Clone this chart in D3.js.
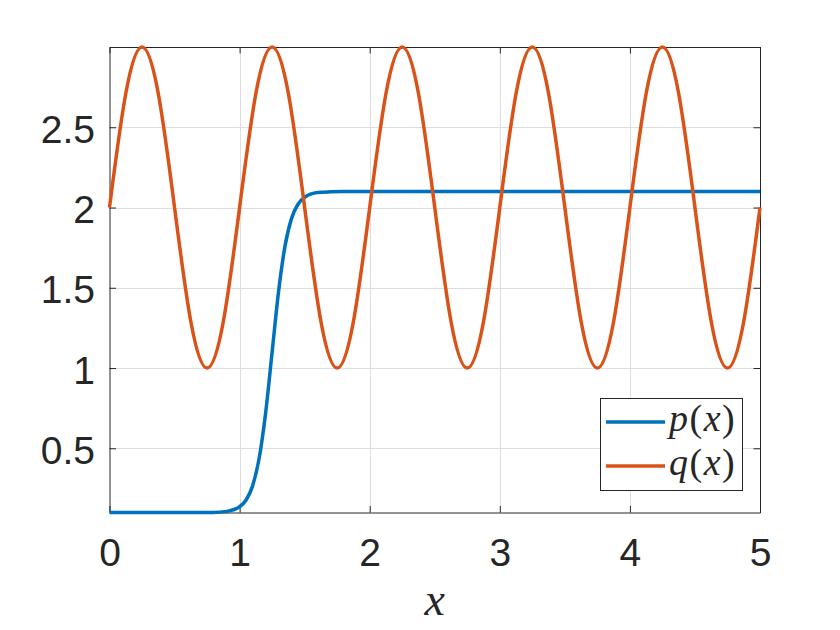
<!DOCTYPE html>
<html>
<head>
<meta charset="utf-8">
<script src="https://cdn.jsdelivr.net/npm/d3@7"></script>
<style>
  body { margin: 0; background: #fff; }
  text { fill: #262626; }
</style>
</head>
<body>
<div id="chart"></div>
<script>
// values
const xTicks = [0, 1, 2, 3, 4, 5];
const xTickLabels = ['0', '1', '2', '3', '4', '5'];
const yTicks = [0.5, 1, 1.5, 2, 2.5];
const yTickLabels = ['0.5', '1', '1.5', '2', '2.5'];
const legendNames = ['p', 'q'];

const pX = [0, 0.5, 0.8, 0.9, 1.0, 1.05, 1.1, 1.15, 1.2, 1.25, 1.3, 1.35, 1.4, 1.45, 1.5, 1.6, 1.7, 1.8, 2, 3, 4, 5];
const pY = [0.1, 0.1, 0.1, 0.107, 0.136, 0.178, 0.266, 0.436, 0.72, 1.1, 1.48, 1.764, 1.934, 2.022, 2.064, 2.093, 2.098, 2.1, 2.1, 2.1, 2.1, 2.1];

const qX = [0, 0.125, 0.25, 0.375, 0.5, 0.625, 0.75, 0.875,
  1, 1.125, 1.25, 1.375, 1.5, 1.625, 1.75, 1.875,
  2, 2.125, 2.25, 2.375, 2.5, 2.625, 2.75, 2.875,
  3, 3.125, 3.25, 3.375, 3.5, 3.625, 3.75, 3.875,
  4, 4.125, 4.25, 4.375, 4.5, 4.625, 4.75, 4.875, 5];
const qY = [2, 2.71, 3, 2.71, 2, 1.29, 1, 1.29,
  2, 2.71, 3, 2.71, 2, 1.29, 1, 1.29,
  2, 2.71, 3, 2.71, 2, 1.29, 1, 1.29,
  2, 2.71, 3, 2.71, 2, 1.29, 1, 1.29,
  2, 2.71, 3, 2.71, 2, 1.29, 1, 1.29, 2];

const width = 840;
const height = 630;
const plotL = 109.5, plotR = 760, plotT = 47, plotB = 512.5;
const tickLen = 6.5;
const axisColor = '#262626';
const colors = ['#0072BD', '#D95319'];
const lineW = 3.5;

const svg = d3.select('#chart').append('svg')
  .attr('width', width)
  .attr('height', height);

const x = d3.scaleLinear().domain([0, 5]).range([plotL, plotR]);
const y = d3.scaleLinear().domain([0.1, 3]).range([plotB, plotT]);

// grid
const grid = svg.append('g').attr('stroke', '#dedede').attr('stroke-width', 1);
grid.selectAll('.gx')
  .data(xTicks.slice(1, -1))
  .enter().append('line')
    .attr('x1', d => Math.round(x(d)) + 0.5).attr('x2', d => Math.round(x(d)) + 0.5)
    .attr('y1', plotT).attr('y2', plotB);
grid.selectAll('.gy')
  .data(yTicks)
  .enter().append('line')
    .attr('y1', d => Math.round(y(d)) + 0.5).attr('y2', d => Math.round(y(d)) + 0.5)
    .attr('x1', plotL).attr('x2', plotR);

// axes, ticks inward on all four sides
const fmtX = (d, i) => xTickLabels[i];
const fmtY = (d, i) => yTickLabels[i];

const axes = [
  { ax: d3.axisBottom(x).tickValues(xTicks).tickFormat(fmtX).tickSize(-tickLen), pos: `translate(0,${plotB})` },
  { ax: d3.axisTop(x).tickValues(xTicks).tickFormat('').tickSize(-tickLen), pos: `translate(0,${plotT})` },
  { ax: d3.axisLeft(y).tickValues(yTicks).tickFormat(fmtY).tickSize(-tickLen), pos: `translate(${plotL},0)` },
  { ax: d3.axisRight(y).tickValues(yTicks).tickFormat('').tickSize(-tickLen), pos: `translate(${plotR},0)` }
];

const axisGroups = axes.map(a => svg.append('g')
  .attr('transform', a.pos)
  .call(a.ax.tickSizeOuter(0))
  .call(g => g.selectAll('line, path').attr('stroke', axisColor))
  .call(g => g.selectAll('text')
    .attr('fill', axisColor)
    .style('font-family', '"Liberation Sans", Arial, sans-serif')
    .style('font-size', '39px')));

axisGroups[0].selectAll('text').attr('y', 0).attr('dy', 0).attr('transform', 'translate(0,53)');
axisGroups[2].selectAll('text').attr('x', -14.5).attr('dy', 0).attr('transform', 'translate(0,15)');

// curves
const lineP = d3.line().x(d => x(d[0])).y(d => y(d[1])).curve(d3.curveMonotoneX);
const lineQ = d3.line().x(d => x(d[0])).y(d => y(d[1])).curve(d3.curveNatural);

svg.append('path')
  .datum(d3.zip(pX, pY))
  .attr('d', lineP)
  .attr('fill', 'none')
  .attr('stroke', colors[0])
  .attr('stroke-width', lineW);

svg.append('path')
  .datum(d3.zip(qX, qY))
  .attr('d', lineQ)
  .attr('fill', 'none')
  .attr('stroke', colors[1])
  .attr('stroke-width', lineW);

// x label
svg.append('text')
  .attr('x', x(2.5))
  .attr('y', 615)
  .attr('text-anchor', 'middle')
  .style('font-family', '"Liberation Serif", "Times New Roman", serif')
  .style('font-style', 'italic')
  .style('font-size', '46px')
  .text('x');

// legend
const legend = svg.append('g');
legend.append('rect')
  .attr('x', 600.5).attr('y', 398.5)
  .attr('width', 142).attr('height', 92)
  .attr('fill', '#fff')
  .attr('stroke', axisColor)
  .attr('stroke-width', 1);

const item = legend.selectAll('.item')
  .data(legendNames)
  .enter().append('g')
    .attr('transform', (d, i) => `translate(0,${422 + i * 44})`);

item.append('line')
  .attr('x1', 606).attr('x2', 665)
  .attr('stroke', (d, i) => colors[i])
  .attr('stroke-width', lineW);

const label = item.append('text')
  .attr('x', 669)
  .attr('y', 9)
  .style('font-family', '"Liberation Serif", "Times New Roman", serif')
  .style('font-size', '38px')
  .style('letter-spacing', '1.5px');

label.append('tspan').style('font-style', 'italic').text(d => d);
label.append('tspan').text('(');
label.append('tspan').style('font-style', 'italic').text('x');
label.append('tspan').text(')');
</script>
</body>
</html>
